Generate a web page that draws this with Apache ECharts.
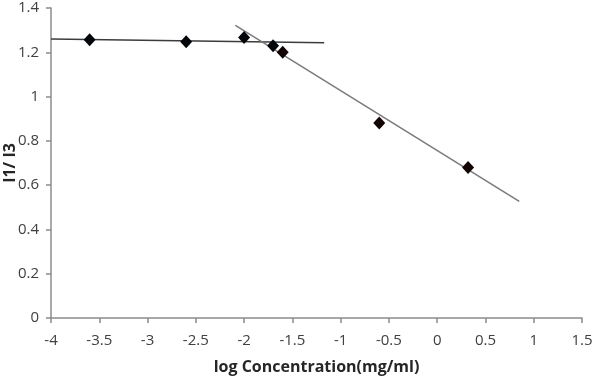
<!DOCTYPE html>
<html>
<head>
<meta charset="utf-8">
<script src="https://cdn.jsdelivr.net/npm/echarts@6/dist/echarts.min.js"></script>
<style>
  html, body { margin: 0; padding: 0; background: #fff; }
  #main { width: 600px; height: 378px; }
</style>
</head>
<body>
<div id="main"></div>
<script>
// measured points (log concentration, I1/I3)
const logConc = [-3.6, -2.6, -2.0, -1.7, -1.6, -0.6, 0.32]
const ratio = [1.257, 1.248, 1.267, 1.230, 1.200, 0.881, 0.680]
// first four points sit on the plateau, the rest on the falling branch
const plateauCount = 4

// fitted trend lines, two end points each
const plateauLine = [[-4, 1.26], [-1.17, 1.243]]
const slopeLine = [[-2.09, 1.322], [0.85, 0.527]]

const xTicks = { min: -4, max: 1.5, step: 0.5 }
const yTicks = { min: 0, max: 1.4, step: 0.2 }

const font = '"Open Sans", Lato, sans-serif'
const pts = logConc.map((x, i) => [x, ratio[i]])

const chart = echarts.init(document.getElementById('main'))
chart.setOption({
    animation: false,
    backgroundColor: '#fff',
    grid: { left: 51, right: 18, top: 8, bottom: 60, outerBoundsMode: 'none' },
    xAxis: {
        type: 'value',
        min: xTicks.min, max: xTicks.max, interval: xTicks.step,
        name: 'log Concentration(mg/ml)',
        nameLocation: 'middle',
        nameGap: 41,
        nameMoveOverlap: false,
        nameTextStyle: { fontFamily: font, fontSize: 16, fontWeight: 'bold', color: '#262626' },
        axisLine: { onZero: false, lineStyle: { color: '#8c8c8c', width: 1.5 } },
        axisTick: { inside: false, length: 5, lineStyle: { color: '#8c8c8c', width: 1.5 } },
        axisLabel: { fontFamily: font, fontSize: 15, color: '#404040', margin: 15 },
        splitLine: { show: false }
    },
    yAxis: {
        type: 'value',
        min: yTicks.min, max: yTicks.max, interval: yTicks.step,
        name: 'I1/ I3',
        nameLocation: 'middle',
        nameRotate: 90,
        nameGap: 33,
        nameMoveOverlap: false,
        nameTextStyle: { fontFamily: font, fontSize: 16, fontWeight: 'bold', color: '#262626' },
        axisLine: { show: true, onZero: false, lineStyle: { color: '#8c8c8c', width: 1.5 } },
        axisTick: { show: true, inside: false, length: 5, lineStyle: { color: '#8c8c8c', width: 1.5 } },
        axisLabel: { fontFamily: font, fontSize: 15, color: '#404040', margin: 12 },
        splitLine: { show: false }
    },
    series: [
        {
            type: 'line', data: plateauLine, symbol: 'none',
            lineStyle: { color: '#3c3c3c', width: 1.5 }, z: 2
        },
        {
            type: 'line', data: slopeLine, symbol: 'none',
            lineStyle: { color: '#7a7a7a', width: 1.5 }, z: 2
        },
        {
            type: 'scatter',
            data: pts.map((p, i) => ({
                value: p,
                itemStyle: { color: i < plateauCount ? '#03060a' : '#120303', opacity: 1 }
            })),
            symbol: 'diamond',
            symbolSize: [12, 13],
            z: 3
        }
    ]
})
</script>
</body>
</html>
